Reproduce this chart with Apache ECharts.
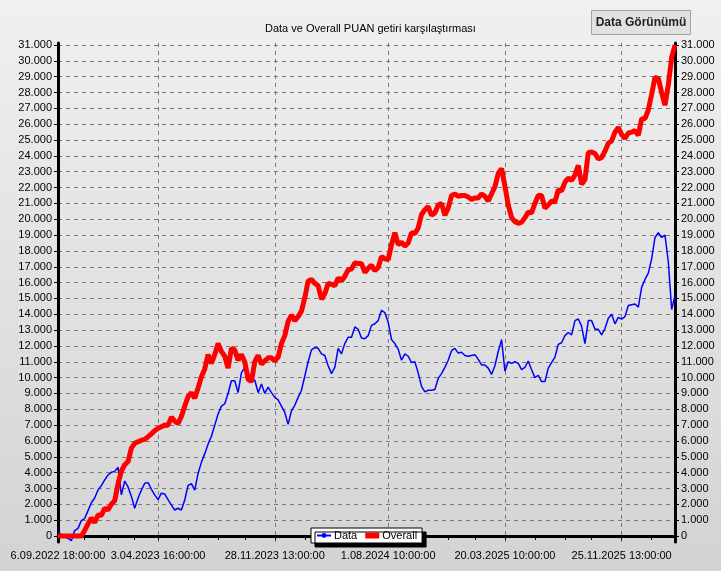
<!DOCTYPE html>
<html>
<head>
<meta charset="utf-8">
<script src="https://cdn.jsdelivr.net/npm/echarts@6/dist/echarts.min.js"></script>
<style>
  html, body { margin: 0; padding: 0; background: #e4e4e4; }
  #chart { width: 721px; height: 571px; }
</style>
</head>
<body>
<div id="chart"></div>
<script>
  const chartTitle = 'Data ve Overall PUAN getiri karşılaştırması'
  const buttonText = 'Data Görünümü'
  const seriesNames = ['Data', 'Overall']

  // Data (mavi) – her nokta bir örnekleme adımı
  const dataValues = [
    300, 60, -50, -150, -300, 340, 480, 970, 1100, 1600,
    2100, 2400, 2900, 3180, 3540, 3850, 4020, 4080, 4340, 2600,
    3470, 3100, 2500, 1750, 2380, 2900, 3330, 3370, 2950, 2600,
    2300, 2700, 2650, 2300, 1950, 1640, 1750, 1640, 2270, 3200,
    3300, 2900, 3950, 4650, 5200, 5800, 6300, 7000, 7700, 8200,
    8350, 9000, 9800, 9800, 9050, 10300, 10650, 10300, 9700, 9850,
    9050, 9600, 9000, 9400, 9050, 8750, 8600, 8200, 7800, 7050,
    7900, 8250, 8750, 9200, 10100, 11000, 11750, 11900, 11850, 11500,
    11400, 10750, 10250, 10650, 11850, 11500, 12150, 12550, 12550, 13200,
    13050, 12500, 12450, 12650, 13300, 13400, 13600, 14250, 14100, 13500,
    12400, 12150, 11800, 11100, 11500, 11350, 10950, 11000, 10300, 9450,
    9100, 9200, 9200, 9250, 9950, 10250, 10650, 11100, 11700, 11850,
    11550, 11600, 11400, 11350, 11400, 11450, 11150, 10800, 10800, 10600,
    10200, 10750, 11650, 12400, 10400, 11000, 10900, 11000, 10900, 10500,
    10650, 11050, 10500, 10000, 10150, 9750, 9750, 10600, 10950, 11300,
    12100, 12200, 12650, 12850, 12700, 13600, 13700, 13250, 12150, 13600,
    13600, 13050, 13050, 12700, 13100, 13750, 14000, 13400, 13800, 13700,
    13850, 14550, 14600, 14650, 14450, 15700, 16200, 16600, 17500, 18850,
    19150, 18850, 19000, 17300, 14300, 15200,
  ]

  // Overall (kırmızı)
  const overallValues = [
    0, 0, 0, 0, 0, 0, 0, 0, 350, 760,
    1140, 850, 1330, 1300, 1750, 1650, 2000, 2230, 3300, 4100,
    4500, 4700, 5550, 5850, 5950, 6050, 6100, 6270, 6450, 6650,
    6800, 6900, 7000, 7000, 7500, 7250, 7100, 7550, 8200, 8800,
    9050, 8700, 9350, 10050, 10550, 11450, 10900, 11450, 12150, 11650,
    11350, 10600, 11850, 11750, 11100, 11450, 11000, 9900, 9750, 11000,
    11400, 10850, 11050, 11250, 11250, 11050, 11300, 12150, 12650, 13550,
    13950, 13600, 13850, 14200, 15050, 16100, 16200, 15950, 15800, 14950,
    15300, 15950, 15900, 15800, 16300, 16100, 16400, 16800, 16850, 17250,
    17200, 17200, 16650, 16900, 17100, 16750, 16950, 17650, 17500, 17450,
    18400, 19150, 18400, 18550, 18300, 18500, 19150, 19100, 19450, 20300,
    20600, 20800, 20250, 20400, 20900, 21000, 20250, 20700, 21500, 21600,
    21450, 21500, 21500, 21400, 21250, 21350, 21350, 21600, 21450, 21150,
    21600, 22050, 22900, 23200, 22100, 20900, 20100, 19850, 19750, 19800,
    20100, 20450, 20400, 21000, 21500, 21500, 20700, 20900, 21150, 21100,
    21850, 21800, 22350, 22600, 22450, 22800, 23400, 22200, 22500, 24200,
    24250, 24150, 23800, 23900, 24300, 24800, 24950, 25500, 25800, 25350,
    25100, 25450, 25500, 25600, 25300, 26350, 26350, 26900, 27900, 28950,
    28900, 28000, 27200, 28500, 30200, 31000,
  ]

  const xTickIndex = [0, 30, 65, 99, 134, 169]
  const xTickLabels = [
    '6.09.2022 18:00:00',
    '3.04.2023 16:00:00',
    '28.11.2023 13:00:00',
    '1.08.2024 10:00:00',
    '20.03.2025 10:00:00',
    '25.11.2025 13:00:00',
  ]
  const xMinorTickIndex = [8, 15, 23, 39, 48, 56, 74, 82, 91, 108, 117, 125, 143, 152, 160, 178]

  const yTicks = [
    0, 1000, 2000, 3000, 4000, 5000, 6000, 7000, 8000, 9000,
    10000, 11000, 12000, 13000, 14000, 15000, 16000, 17000, 18000, 19000,
    20000, 21000, 22000, 23000, 24000, 25000, 26000, 27000, 28000, 29000,
    30000, 31000,
  ]
  const yMin = -380
  const yMax = 31130

  const categories = dataValues.map((_, i) => i)
  const font = '"Liberation Sans", Arial, sans-serif'

  function fmtThousands(v) {
    return v === 0 ? '0' : (v / 1000).toFixed(3)
  }

  function yAxisDef(position) {
    return {
      type: 'value',
      position,
      min: yMin,
      max: yMax,
      axisLine: { show: true, lineStyle: { color: '#000', width: 3 } },
      axisTick: { show: true, length: 4, lineStyle: { color: '#000' }, customValues: yTicks },
      axisLabel: {
        customValues: yTicks,
        formatter: fmtThousands,
        color: '#000',
        fontSize: 11,
        fontFamily: font,
        margin: 6,
      },
      splitLine: {
        show: position === 'left',
        lineStyle: { color: '#7a7a7a', type: [4, 4], width: 1 },
      },
    }
  }

  const chart = echarts.init(document.getElementById('chart'), null, { renderer: 'canvas' })

  chart.setOption({
    animation: false,
    backgroundColor: {
      type: 'linear', x: 0, y: 0, x2: 0, y2: 1,
      colorStops: [
        { offset: 0, color: '#f0f0f0' },
        { offset: 1, color: '#d3d3d3' },
      ],
    },
    title: {
      text: chartTitle,
      left: 265,
      top: 23,
      padding: 0,
      textStyle: { fontSize: 11, fontWeight: 'normal', color: '#000', fontFamily: font },
    },
    graphic: [
      {
        type: 'group',
        left: 591,
        top: 10,
        children: [
          {
            type: 'rect',
            shape: { x: 0, y: 0, width: 99, height: 24 },
            style: { fill: '#e1e1e1', stroke: '#a3a3a3', lineWidth: 1 },
          },
          {
            type: 'text',
            x: 49.5,
            y: 12,
            style: {
              text: buttonText,
              font: 'bold 12px ' + font,
              fill: '#222',
              align: 'center',
              verticalAlign: 'middle',
            },
          },
        ],
      },
    ],
    legend: {
      data: [
        { name: seriesNames[0] },
        { name: seriesNames[1], icon: 'rect', itemStyle: { color: '#ff0000' } },
      ],
      left: 311,
      top: 528,
      padding: [2, 5],
      itemGap: 8,
      itemWidth: 14,
      itemHeight: 6,
      backgroundColor: '#fff',
      borderColor: '#000',
      borderWidth: 1,
      shadowColor: '#000',
      shadowBlur: 0,
      shadowOffsetX: 4,
      shadowOffsetY: 4,
      textStyle: { fontSize: 11, color: '#000', fontFamily: font, padding: [0, 0, 0, -2] },
    },
    grid: { left: 58, right: 46, top: 43, bottom: 29, containLabel: false },
    xAxis: {
      type: 'category',
      data: categories,
      boundaryGap: false,
      axisLine: { show: true, lineStyle: { color: '#000', width: 3 } },
      axisTick: {
        show: true,
        length: 4,
        lineStyle: { color: '#000' },
        interval: (i) => xTickIndex.includes(i) || xMinorTickIndex.includes(i),
      },
      axisLabel: {
        interval: (i) => xTickIndex.includes(i),
        formatter: (v) => xTickLabels[xTickIndex.indexOf(Number(v))] || '',
        color: '#000',
        fontSize: 11,
        fontFamily: font,
        margin: 8,
        hideOverlap: false,
      },
      splitLine: {
        show: true,
        interval: (i) => xTickIndex.includes(i) && i > 0,
        lineStyle: { color: '#7a7a7a', type: [4, 4], width: 1 },
      },
    },
    yAxis: [yAxisDef('left'), yAxisDef('right')],
    series: [
      {
        name: seriesNames[0],
        type: 'line',
        data: dataValues,
        yAxisIndex: 0,
        symbol: 'none',
        lineStyle: { color: '#0000ff', width: 1.5 },
        itemStyle: { color: '#0000ff' },
      },
      {
        name: seriesNames[1],
        type: 'line',
        data: overallValues,
        yAxisIndex: 0,
        symbol: 'none',
        lineStyle: { color: '#ff0000', width: 5 },
        itemStyle: { color: '#ff0000' },
      },
    ],
  })
</script>
</body>
</html>
